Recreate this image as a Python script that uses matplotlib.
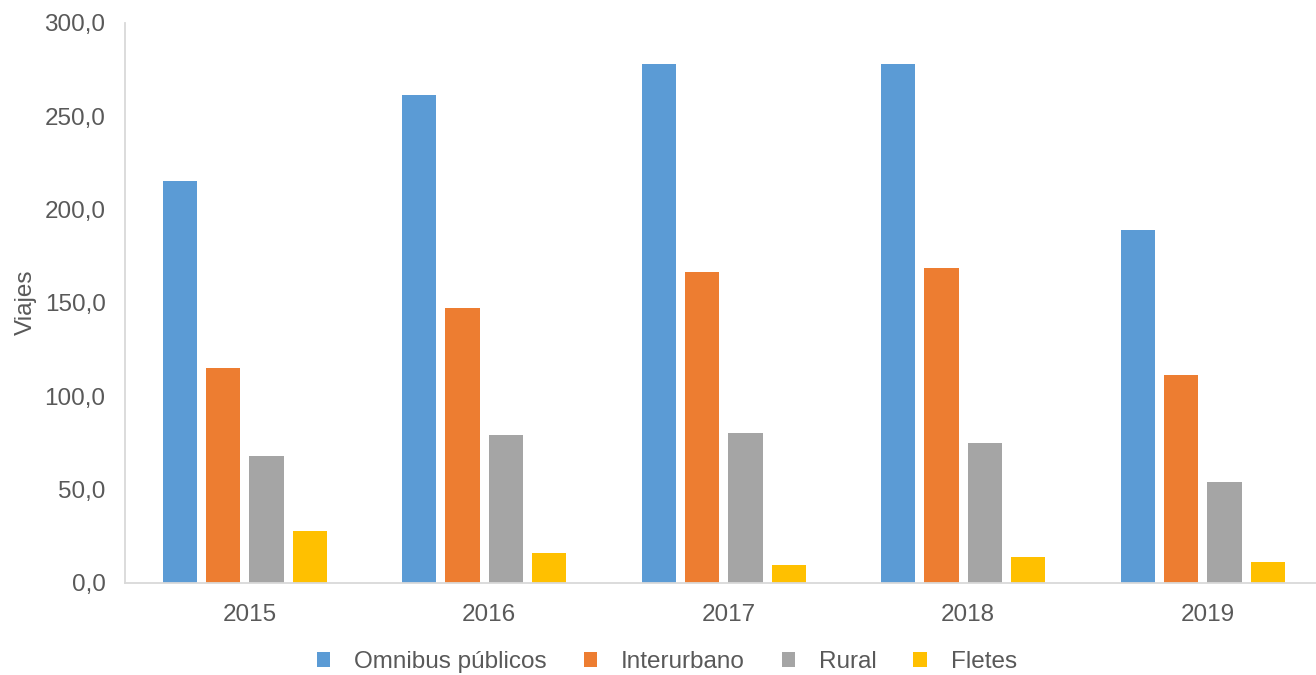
import matplotlib.pyplot as plt
import numpy as np

plt.rcParams['font.family'] = ['Liberation Sans', 'DejaVu Sans']

years = ['2015', '2016', '2017', '2018', '2019']
series = ['Omnibus públicos', 'Interurbano', 'Rural', 'Fletes']
omnibus = [215.3, 261.4, 278.0, 278.0, 189.1]
interurbano = [115.2, 147.3, 166.6, 168.7, 111.4]
rural = [68.0, 79.3, 80.3, 75.0, 54.1]
fletes = [27.9, 16.1, 9.6, 13.9, 11.2]
colors = ['#5B9BD5', '#ED7D31', '#A5A5A5', '#FFC000']

text_col = '#595959'
fig = plt.figure(figsize=(13.16, 6.75), dpi=100)
ax = fig.add_axes([125 / 1316, 92 / 675, 1197.5 / 1316, 560 / 675])

x = np.arange(len(years))
step = 0.1816
width = 0.142
for i, (vals, name) in enumerate(zip([omnibus, interurbano, rural, fletes], series)):
    ax.bar(x + (i - 1.5) * step, vals, width, color=colors[i], label=name)

ax.set_xlim(-0.5, len(years) - 0.5)
ax.set_ylim(0, 300)
ax.set_yticks(np.arange(0, 301, 50))
ax.set_yticklabels([f'{v:.1f}'.replace('.', ',') for v in np.arange(0, 301, 50)])
ax.set_xticks(x + 0.02)
ax.set_xticklabels(years)
ax.tick_params(axis='both', length=0, colors=text_col, labelsize=17.5)
ax.tick_params(axis='y', pad=14)
ax.tick_params(axis='x', pad=15)

for s in ['top', 'right']:
    ax.spines[s].set_visible(False)
ax.spines['left'].set_color('#D9D9D9')
ax.spines['bottom'].set_color('#D9D9D9')
ax.spines['left'].set_linewidth(1.3)
ax.spines['bottom'].set_linewidth(1.3)

# y label placed by hand so it stays inside the figure
fig.text(26 / 1316, 1 - 302 / 675, 'Viajes', rotation=90, color=text_col,
         fontsize=17.5, ha='center', va='center')

fig.legend(loc='center', bbox_to_anchor=(667 / 1316, 1 - 662 / 675), ncol=4,
           frameon=False, fontsize=17.5, handlelength=0.55, handleheight=0.55,
           handletextpad=1.0, columnspacing=1.5, labelcolor=text_col)

fig.savefig('out.png', dpi=100)
